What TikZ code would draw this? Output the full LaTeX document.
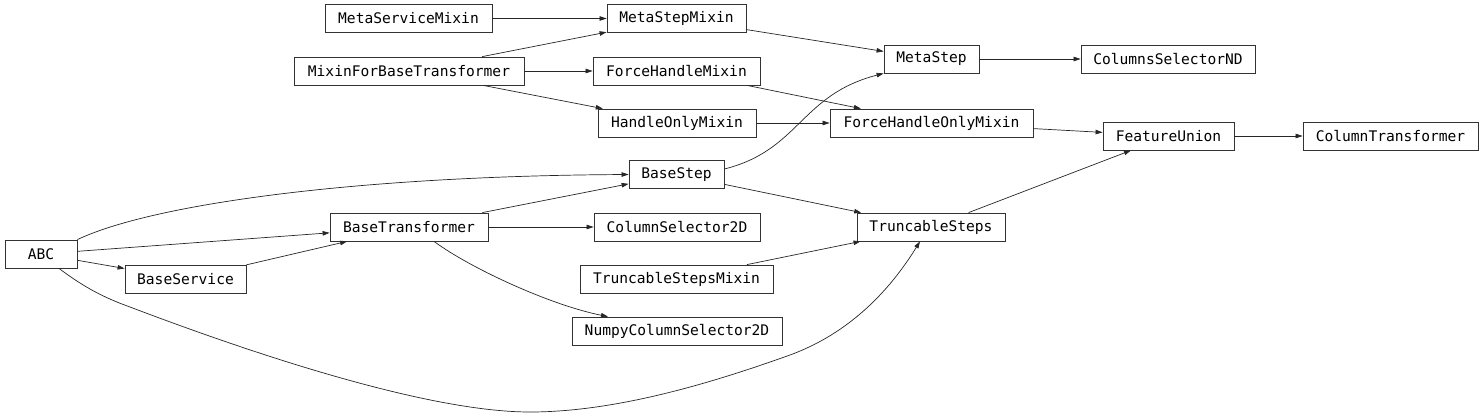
\documentclass[tikz,border=0pt]{standalone}
\usepackage{fontspec}
\setmonofont{DejaVu Sans Mono}
\usetikzlibrary{arrows.meta}
\begin{document}
\begin{tikzpicture}[x=1pt,y=-1pt,
  box/.style={draw=black!80, line width=0.8pt, minimum height=28pt, inner sep=0pt,
    font=\ttfamily\fontsize{14.6}{17}\selectfont},
  edge/.style={draw=black!85, line width=0.7pt, -{Triangle[length=7pt,width=4.5pt]}}]
\useasboundingbox (0,0) rectangle (1484,418);
\node[box, minimum width=72pt]  (ABC) at (41,254) {ABC};
\node[box, minimum width=121pt] (BSv) at (185.5,279) {BaseService};
\node[box, minimum width=158pt] (BT)  at (409,227) {BaseTransformer};
\node[box, minimum width=95pt]  (BS)  at (676.5,174.5) {BaseStep};
\node[box, minimum width=166pt] (CS2) at (677,227) {ColumnSelector2D};
\node[box, minimum width=193pt] (TSM) at (676.5,279) {TruncableStepsMixin};
\node[box, minimum width=210pt] (NCS) at (677,331) {NumpyColumnSelector2D};
\node[box, minimum width=148pt] (TS)  at (931,227) {TruncableSteps};
\node[box, minimum width=167pt] (MSvM) at (408.5,18.5) {MetaServiceMixin};
\node[box, minimum width=230pt] (MBT) at (409,71) {MixinForBaseTransformer};
\node[box, minimum width=139pt] (MSM) at (676.5,18.5) {MetaStepMixin};
\node[box, minimum width=167pt] (FHM) at (676.5,71) {ForceHandleMixin};
\node[box, minimum width=158pt] (HOM) at (677,123) {HandleOnlyMixin};
\node[box, minimum width=95pt]  (MS)  at (931.5,59) {MetaStep};
\node[box, minimum width=203pt] (FHOM) at (931.5,123) {ForceHandleOnlyMixin};
\node[box, minimum width=174pt] (CSND) at (1168,59) {ColumnsSelectorND};
\node[box, minimum width=131pt] (FU)  at (1168.5,136) {FeatureUnion};
\node[box, minimum width=175pt] (CT)  at (1390.5,136) {ColumnTransformer};

\path[edge] (ABC.north east) .. controls (150,205) and (350,176) .. (BS.west);
\path[edge] (ABC) -- (BT);
\path[edge] (ABC) -- (BSv);
\path[edge] ([xshift=18pt]ABC.south) .. controls (85,288) and (105,298) .. (130,307)
   .. controls (230,345) and (420,412) .. (530,412)
   .. controls (620,412) and (720,380) .. (790,355)
   .. controls (850,333) and (890,290) .. ([xshift=-11pt]TS.south);
\path[edge] (BSv) -- (BT);
\path[edge] (BT) -- (BS);
\path[edge] (BT) -- (CS2);
\path[edge] ([xshift=25pt]BT.south) .. controls (470,268) and (550,305) .. ([xshift=-69pt]NCS.north);
\path[edge] ([yshift=5.5pt]BS.east) .. controls (800,150) and (800,95) .. (MS.south west);
\path[edge] (BS) -- (TS);
\path[edge] (TSM) -- (TS);
\path[edge] (TS) -- (FU);
\path[edge] (MSvM) -- (MSM);
\path[edge] (MBT) -- (MSM);
\path[edge] (MBT) -- (FHM);
\path[edge] (MBT) -- (HOM);
\path[edge] (MSM) -- (MS);
\path[edge] (FHM) -- (FHOM);
\path[edge] (HOM) -- (FHOM);
\path[edge] (MS) -- (CSND);
\path[edge] (FHOM) -- (FU);
\path[edge] (FU) -- (CT);
\end{tikzpicture}
\end{document}
